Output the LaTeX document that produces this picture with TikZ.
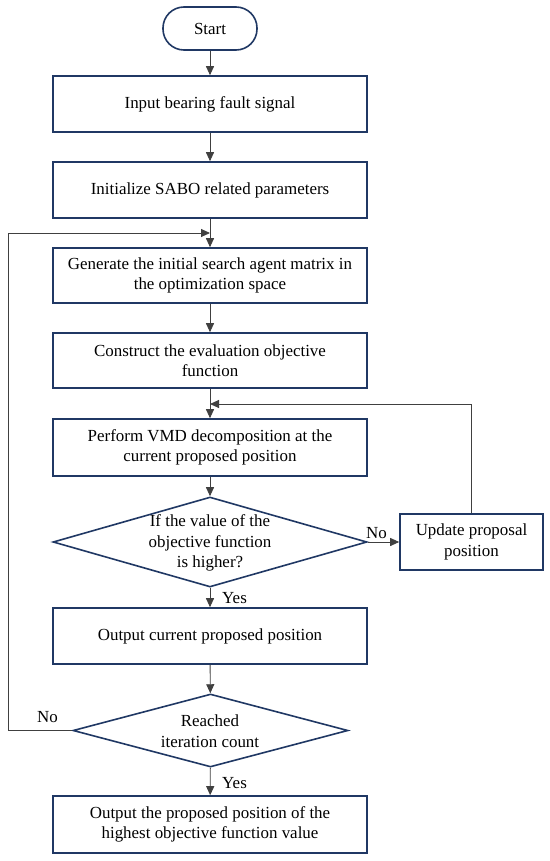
\documentclass[tikz,border=0pt]{standalone}
\usepackage{fontspec}
\setmainfont{Liberation Serif}
\usetikzlibrary{arrows.meta,shapes.geometric}
\definecolor{navy}{HTML}{203864}
\definecolor{conn}{HTML}{404040}
\tikzset{
  every node/.style={font=\fontsize{17}{20.5}\selectfont, text=black},
  procbox/.style={draw=navy, line width=1.6bp, minimum width=314bp, minimum height=56bp, inner sep=0pt, align=center},
  termbox/.style={draw=navy, line width=1.6bp, rounded corners=21bp, minimum width=94bp, minimum height=43bp, inner sep=0pt},
  decision/.style={draw=navy, line width=1.6bp, diamond, inner sep=0pt},
  conline/.style={draw=conn, line width=0.9bp},
  conarrow/.style={conline, -{Triangle[length=9bp,width=8bp]}},
  lbl/.style={inner sep=0pt}
}
\begin{document}
\begin{tikzpicture}[x=1bp,y=-1bp]
\useasboundingbox (0,0) rectangle (550,861);
\node[termbox] (start) at (210,28.5) {Start};
\node[procbox] (b1) at (210,104) {Input bearing fault signal};
\node[procbox] (b2) at (210,190) {Initialize SABO related parameters};
\node[procbox, minimum height=55bp] (b3) at (210,275.5) {Generate the initial search agent matrix in\\the optimization space};
\node[procbox, minimum height=55bp] (b4) at (210,360.5) {Construct the evaluation objective\\function};
\node[procbox, minimum height=57bp] (b5) at (210,447.5) {Perform VMD decomposition at the\\current proposed position};
\node[decision, minimum width=314bp, minimum height=90bp] (d1) at (210,542) {};
\node[align=center] (d1t) at (210,543) {If the value of the\\objective function\\is higher?};
\node[draw=navy, line width=1.6bp, minimum width=143bp, minimum height=56bp, inner sep=0pt, align=center] (up) at (471.5,542) {Update proposal\\position};
\node[procbox] (b6) at (210,636) {Output current proposed position};
\node[decision, minimum width=275bp, minimum height=73bp] (d2) at (210.5,730.5) {};
\node[align=center] (d2t) at (210,731) {Reached\\iteration count};
\node[procbox, minimum height=57bp] (b7) at (210,824.5) {Output the proposed position of the\\highest objective function value};
\coordinate (j1) at (210,233);
\coordinate (j2) at (210,404);
\coordinate (lc) at (8,233);
\coordinate (uc) at (up.north |- j2);
\draw[conarrow] (start) -- (b1);
\draw[conarrow] (b1) -- (b2);
\draw[conarrow] (b2) -- (b3);
\draw[conarrow] (b3) -- (b4);
\draw[conarrow] (b4) -- (b5);
\draw[conarrow] (b5) -- (d1);
\draw[conarrow] (d1) -- (b6);
\draw[conarrow] (b6) -- (d2);
\draw[conarrow] (d2) -- (b7);
\draw[conarrow] (d1.east) -- (up.west);
\draw[conarrow] (up.north) -- (uc) -- (j2);
\draw[conarrow] (d2.west) -| (lc) -- (j1);
\node[lbl, anchor=west] (y1) at (222,598) {Yes};
\node[lbl, anchor=west] (y2) at (222,783) {Yes};
\node[lbl, anchor=west] (n1) at (366,533) {No};
\node[lbl, anchor=west] (n2) at (37,717) {No};
\end{tikzpicture}
\end{document}
